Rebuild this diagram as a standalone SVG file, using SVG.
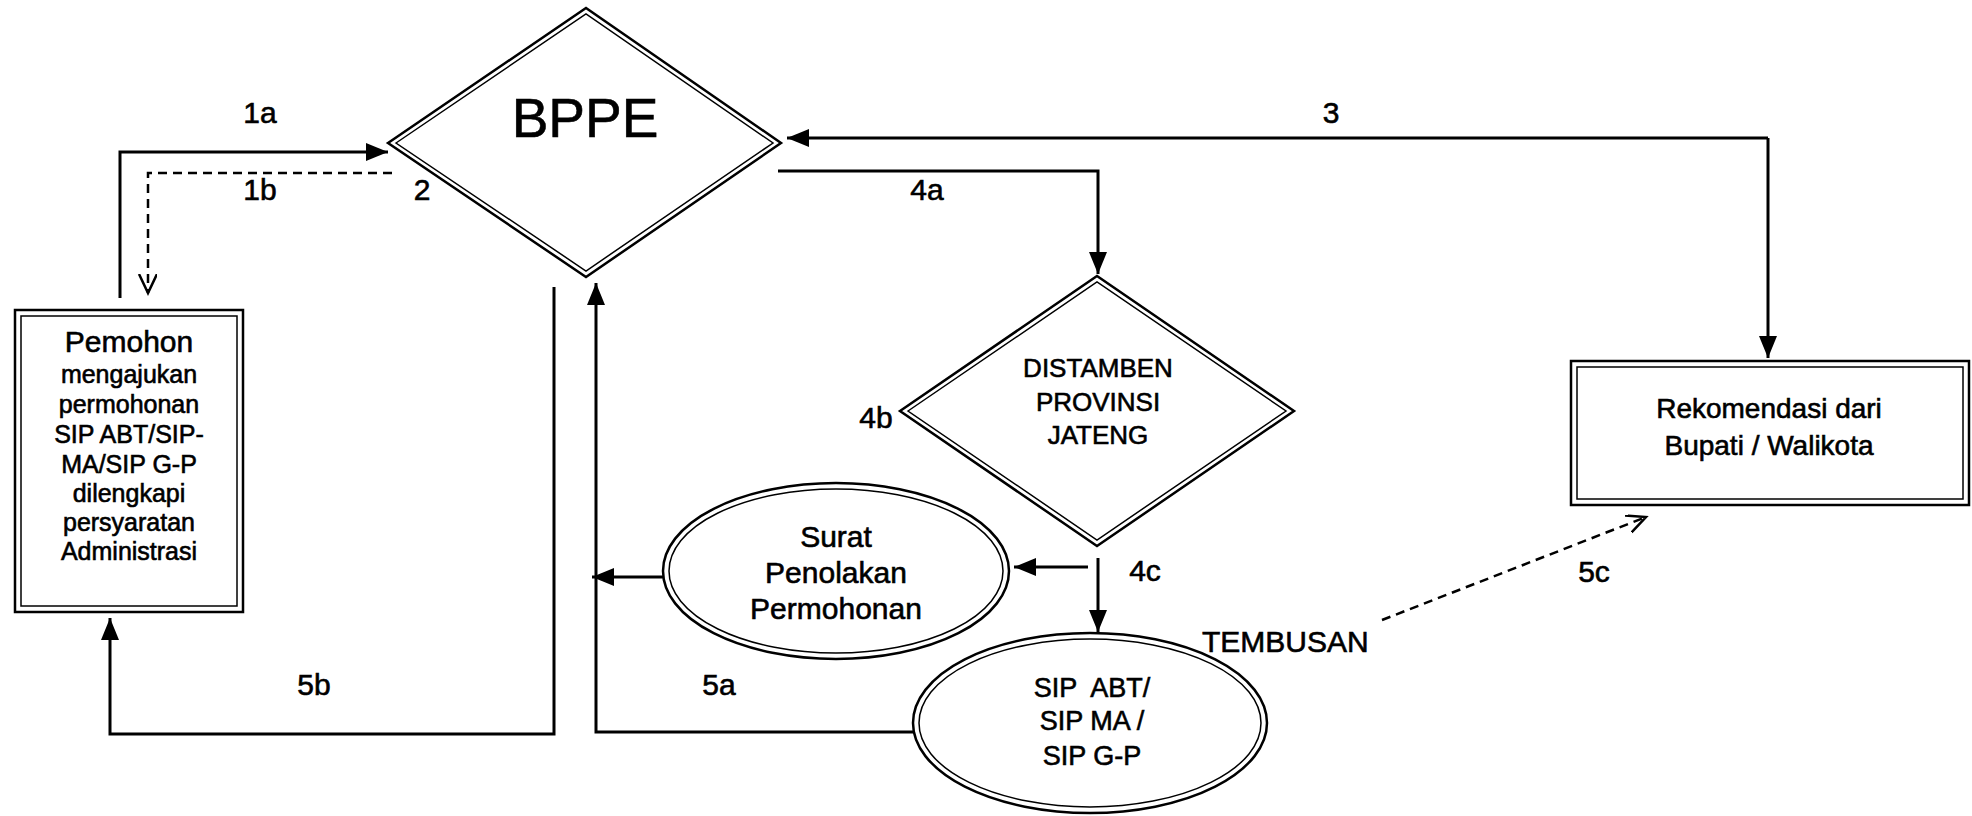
<svg xmlns="http://www.w3.org/2000/svg" width="1972" height="816" viewBox="0 0 1972 816">
<style>
.bg{fill:#fff}
.shape{fill:none;stroke:#000;stroke-width:2.5}
.inner{fill:none;stroke:#000;stroke-width:1.5}
.ln{fill:none;stroke:#000;stroke-width:3}
.dash{fill:none;stroke:#000;stroke-width:2.5;stroke-dasharray:9 6}
text{font-family:"Liberation Sans",Arial,sans-serif;fill:#000;stroke:#000;stroke-width:0.6}
.lbl{font-size:30px;text-anchor:middle}
.c{text-anchor:middle}
</style>
<defs>
<marker id="fa" markerUnits="userSpaceOnUse" markerWidth="24" markerHeight="20" refX="22" refY="9" orient="auto">
<path d="M0,0 L22,9 L0,18 z" fill="#000"/>
</marker>
<marker id="oa" markerUnits="userSpaceOnUse" markerWidth="24" markerHeight="20" refX="19" refY="9" orient="auto">
<path d="M0,0 L19,9 L0,18" fill="none" stroke="#000" stroke-width="2.5"/>
</marker>
</defs>
<rect class="bg" x="0" y="0" width="1972" height="816"/>

<g id="connectors">
<path class="ln" d="M120,298 V152 H388" marker-end="url(#fa)"/>
<path class="dash" d="M392,173 H148 V293" marker-end="url(#oa)"/>
<path class="ln" d="M1768,138 H787" marker-end="url(#fa)"/>
<path class="ln" d="M1768,138 V358" marker-end="url(#fa)"/>
<path class="ln" d="M778,171 H1098 V274" marker-end="url(#fa)"/>
<path class="ln" d="M1098,558 V632" marker-end="url(#fa)"/>
<path class="ln" d="M1088,567 H1014" marker-end="url(#fa)"/>
<path class="ln" d="M913,732 H596 V283" marker-end="url(#fa)"/>
<path class="ln" d="M663,577 H592" marker-end="url(#fa)"/>
<path class="ln" d="M554,287 V734 H110 V618" marker-end="url(#fa)"/>
<path class="dash" d="M1382,620 L1646,517" marker-end="url(#oa)"/>
</g>

<g id="labels">
<text class="lbl" x="260" y="123">1a</text>
<text class="lbl" x="260" y="200">1b</text>
<text class="lbl" x="422" y="200">2</text>
<text class="lbl" x="1331" y="123">3</text>
<text class="lbl" x="927" y="200">4a</text>
<text class="lbl" x="876" y="428">4b</text>
<text class="lbl" x="1145" y="581">4c</text>
<text class="lbl" x="719" y="695">5a</text>
<text class="lbl" x="314" y="695">5b</text>
<text class="lbl" x="1594" y="582">5c</text>
<text x="1202" y="652" font-size="30">TEMBUSAN</text>
</g>

<g id="bppe">
<polygon class="shape" points="388,143 586,8 781,143 586,277"/>
<polygon class="inner" points="396,143 586,14 773,143 586,271"/>
<text class="c" x="585" y="137" font-size="55">BPPE</text>
</g>

<g id="distamben">
<polygon class="shape" points="900,411 1097,276 1294,411 1097,546"/>
<polygon class="inner" points="908,411 1097,282 1286,411 1097,540"/>
<text class="c" x="1098" y="377" font-size="26">DISTAMBEN</text>
<text class="c" x="1098" y="411" font-size="26">PROVINSI</text>
<text class="c" x="1098" y="444" font-size="26">JATENG</text>
</g>

<g id="pemohon">
<rect class="shape" x="15" y="310" width="228" height="302" stroke-width="3"/>
<rect class="inner" x="21" y="316" width="216" height="290"/>
<text class="c" x="129" y="352" font-size="30">Pemohon</text>
<text class="c" x="129" y="383" font-size="25">mengajukan</text>
<text class="c" x="129" y="413" font-size="25">permohonan</text>
<text class="c" x="129" y="443" font-size="25">SIP ABT/SIP-</text>
<text class="c" x="129" y="473" font-size="25">MA/SIP G-P</text>
<text class="c" x="129" y="502" font-size="25">dilengkapi</text>
<text class="c" x="129" y="531" font-size="25">persyaratan</text>
<text class="c" x="129" y="560" font-size="25">Administrasi</text>
</g>

<g id="rekomendasi">
<rect class="shape" x="1571" y="361" width="398" height="144" stroke-width="3"/>
<rect class="inner" x="1577" y="367" width="386" height="132"/>
<text class="c" x="1769" y="418" font-size="28">Rekomendasi dari</text>
<text class="c" x="1769" y="455" font-size="28">Bupati / Walikota</text>
</g>

<g id="surat">
<ellipse class="shape" cx="836" cy="571" rx="173" ry="88"/>
<ellipse class="inner" cx="836" cy="571" rx="167" ry="82"/>
<text class="c" x="836" y="547" font-size="30">Surat</text>
<text class="c" x="836" y="583" font-size="30">Penolakan</text>
<text class="c" x="836" y="619" font-size="30">Permohonan</text>
</g>

<g id="sip">
<ellipse class="shape" cx="1090" cy="723" rx="177" ry="90"/>
<ellipse class="inner" cx="1090" cy="723" rx="171" ry="84"/>
<text class="c" x="1092" y="697" font-size="27" xml:space="preserve">SIP  ABT/</text>
<text class="c" x="1092" y="730" font-size="27">SIP MA /</text>
<text class="c" x="1092" y="765" font-size="27">SIP G-P</text>
</g>
</svg>
